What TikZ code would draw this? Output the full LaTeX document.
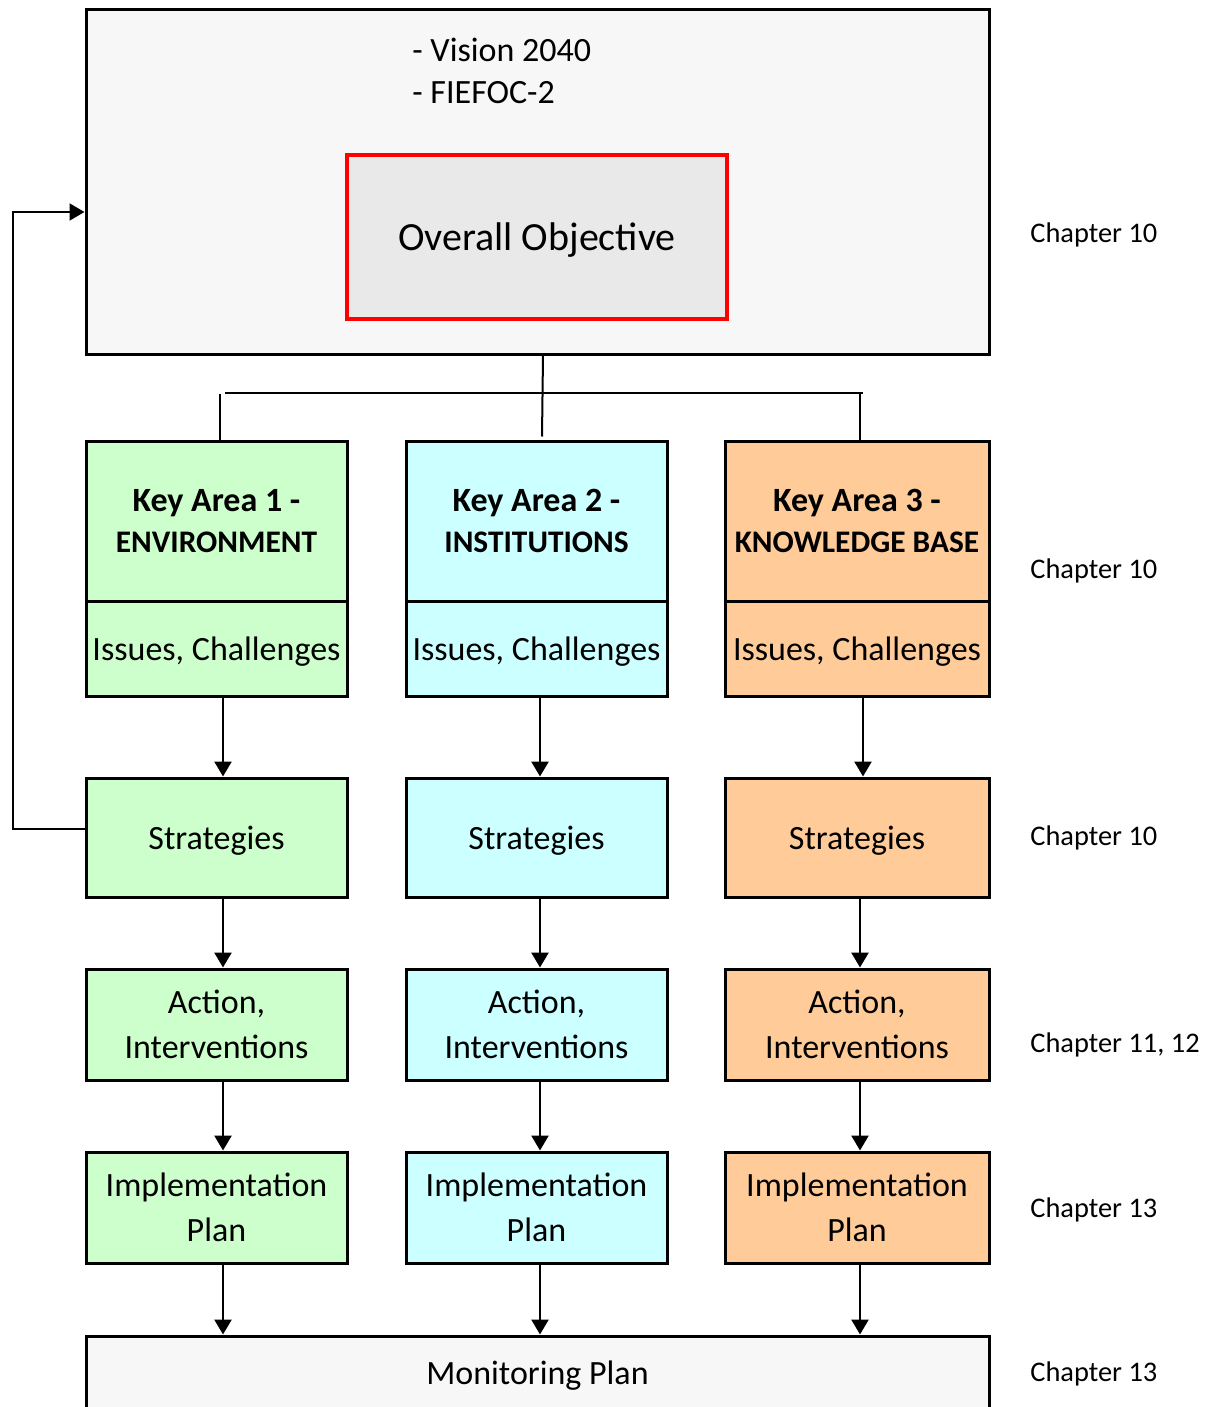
\documentclass[tikz,border=0pt]{standalone}
\usepackage{fontspec}
\setmainfont{Carlito}
\usetikzlibrary{arrows.meta}
\definecolor{kgreen}{HTML}{CCFFCC}
\definecolor{kcyan}{HTML}{CCFFFF}
\definecolor{korange}{HTML}{FFCC99}
\definecolor{lightbg}{HTML}{F7F7F7}
\definecolor{objbg}{HTML}{E9E9E9}
\definecolor{objred}{HTML}{FF0000}
\begin{document}
\begin{tikzpicture}[x=0.5pt,y=-0.5pt,
  box/.style={draw, line width=1.5pt, inner sep=0pt, align=center, text depth=0pt,
    font=\fontsize{17}{22.5}\selectfont},
  kbox/.style={box, font=\bfseries\fontsize{17}{20.5}\selectfont},
  conn/.style={line width=1pt},
  arr/.style={line width=1.3pt, -{Triangle[width=8.5pt,length=7.5pt]}},
  chap/.style={anchor=west, inner sep=0pt, text depth=0pt, font=\fontsize{14.2}{17}\selectfont}]
\useasboundingbox (0,0) rectangle (1209,1407);
\clip (0,0) rectangle (1209,1407);

% top box
\node[box, fill=lightbg, minimum width=451.5pt, minimum height=172pt] (top) at (537.5,182) {};
\node[anchor=west, inner sep=0pt, align=left, font=\fontsize{17}{21}\selectfont] (vis) at (412,71) {- Vision 2040\\- FIEFOC-2};
\node[draw=objred, line width=2.2pt, fill=objbg, inner sep=0pt, minimum width=190pt, minimum height=82pt,
  text depth=0pt, font=\fontsize{20}{24}\selectfont] (obj) at (537,237) {Overall Objective};

% key areas
\node[kbox, fill=kgreen, minimum width=130.5pt, minimum height=80pt] (ka1) at (216.5,521) {Key Area 1 -\\{\fontsize{15.7}{20.5}\selectfont ENVIRONMENT}};
\node[kbox, fill=kcyan, minimum width=130.5pt, minimum height=80pt] (ka2) at (536.5,521) {Key Area 2 -\\{\fontsize{15.7}{20.5}\selectfont INSTITUTIONS}};
\node[kbox, fill=korange, minimum width=132pt, minimum height=80pt] (ka3) at (857,521) {Key Area 3 -\\{\fontsize{15.7}{20.5}\selectfont KNOWLEDGE BASE}};

\node[box, fill=kgreen, minimum width=130.5pt, minimum height=47.5pt] (is1) at (216.5,648.5) {Issues, Challenges};
\node[box, fill=kcyan, minimum width=130.5pt, minimum height=47.5pt] (is2) at (536.5,648.5) {Issues, Challenges};
\node[box, fill=korange, minimum width=132pt, minimum height=47.5pt] (is3) at (857,648.5) {Issues, Challenges};

% strategies
\node[box, fill=kgreen, minimum width=130.5pt, minimum height=59.5pt] (st1) at (216.5,837.5) {Strategies};
\node[box, fill=kcyan, minimum width=130.5pt, minimum height=59.5pt] (st2) at (536.5,837.5) {Strategies};
\node[box, fill=korange, minimum width=132pt, minimum height=59.5pt] (st3) at (857,837.5) {Strategies};

% actions
\node[box, fill=kgreen, minimum width=130.5pt, minimum height=55.5pt] (ac1) at (216.5,1024.5) {Action,\\Interventions};
\node[box, fill=kcyan, minimum width=130.5pt, minimum height=55.5pt] (ac2) at (536.5,1024.5) {Action,\\Interventions};
\node[box, fill=korange, minimum width=132pt, minimum height=55.5pt] (ac3) at (857,1024.5) {Action,\\Interventions};

% implementation
\node[box, fill=kgreen, minimum width=130.5pt, minimum height=55.5pt] (im1) at (216.5,1207.5) {Implementation\\Plan};
\node[box, fill=kcyan, minimum width=130.5pt, minimum height=55.5pt] (im2) at (536.5,1207.5) {Implementation\\Plan};
\node[box, fill=korange, minimum width=132pt, minimum height=55.5pt] (im3) at (857,1207.5) {Implementation\\Plan};

% monitoring
\node[box, fill=lightbg, minimum width=451.5pt, minimum height=37pt] (mon) at (537.5,1373) {Monitoring Plan};

% chapter labels
\node[chap] (c1) at (1030,233) {Chapter 10};
\node[chap] (c2) at (1030,569) {Chapter 10};
\node[chap] (c3) at (1030,836) {Chapter 10};
\node[chap] (c4) at (1030,1043) {Chapter 11, 12};
\node[chap] (c5) at (1030,1208) {Chapter 13};
\node[chap] (c6) at (1030,1372) {Chapter 13};

% top connectors
\coordinate (hl) at (225,393);
\coordinate (hr) at (863,393);
\draw[conn] ([xshift=2.75pt]top.south) -- ([xshift=2.75pt,yshift=1.5pt]ka2.north);
\draw[conn] (hl) -- (hr);
\draw[conn] ([xshift=1.75pt]ka1.north) -- ++(0,-46);
\draw[conn] ([xshift=1.5pt]ka3.north) -- ++(0,-48);

% column arrows
\foreach \c/\s in {1/3.25pt,2/1.75pt,3/3pt}{
  \draw[arr] ([xshift=\s]is\c.south) -- ([xshift=\s]st\c.north);
}
\foreach \c/\s in {1/3.25pt,2/1.75pt,3/1.5pt}{
  \draw[arr] ([xshift=\s]st\c.south) -- ([xshift=\s]ac\c.north);
  \draw[arr] ([xshift=\s]ac\c.south) -- ([xshift=\s]im\c.north);
  \draw[arr] ([xshift=\s]im\c.south) -- ([xshift=\s]mon.north -| im\c.south);
}

% feedback loop
\coordinate (fb1) at (13,829);
\coordinate (fb2) at (13,212);
\draw[conn, -{Triangle[width=8.5pt,length=7.5pt]}] (st1.west |- fb1) -- (fb1) -- (fb2) -- (top.west |- fb2);
\end{tikzpicture}
\end{document}
